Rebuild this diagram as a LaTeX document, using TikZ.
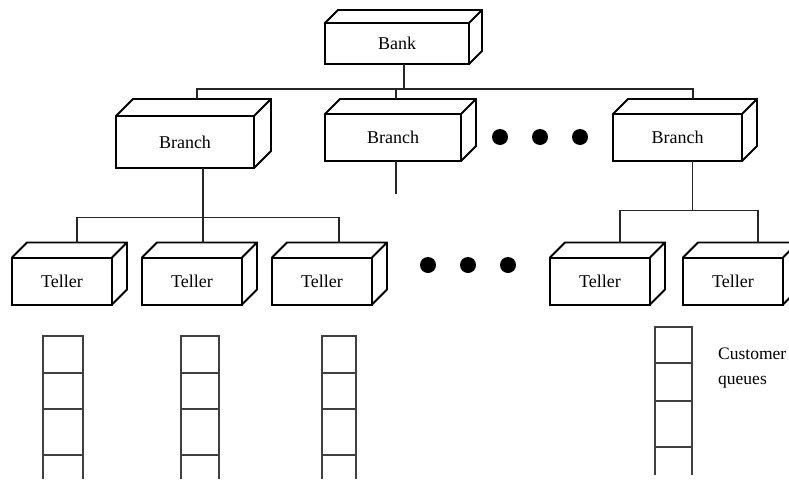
\documentclass[tikz,border=0pt]{standalone}
\usepackage{fontspec}
\setmainfont{Liberation Serif}
\usetikzlibrary{calc}

\begin{document}
\begin{tikzpicture}[x=1pt, y=-1pt,
    box/.style={draw, line width=1.3pt, inner sep=0pt, outer sep=0pt, font=\fontsize{18}{20}\selectfont},
    heavy/.style={box, line width=2pt},
    wire/.style={line width=1.3pt, black!85},
    queue/.style={line width=1.6pt, black!75}]
    \useasboundingbox (0,0) rectangle (789,479);

    % Front faces of the boxes
    \node[box, minimum width=144pt, minimum height=41pt] (bank) at (397,43.5) {Bank};
    \node[heavy, minimum width=138pt, minimum height=52pt] (brA) at (185,142) {Branch};
    \node[box, minimum width=136pt, minimum height=47pt] (brB) at (393,137.5) {Branch};
    \node[heavy, minimum width=129pt, minimum height=47pt] (brC) at (677.5,137.5) {Branch};
    \foreach \n/\x in {tA/62, tB/192, tC/322, tD/600, tE/733}
        \node[heavy, minimum width=100pt, minimum height=47pt] (\n) at (\x,281) {Teller};

    % Top and side faces
    \foreach \n/\d in {bank/13, brA/17, brB/15, brC/15, tA/15, tB/15, tC/15, tD/15, tE/15}
        \draw[line width=1.8pt] (\n.north west) -- ++(\d,-\d) -- ($(\n.north east)+(\d,-\d)$)
            -- ($(\n.south east)+(\d,-\d)$) -- (\n.south east)
            (\n.north east) -- ++(\d,-\d);

    % Bank to branches
    \coordinate (dropA) at ($(brA.north)+(12,-17)$);
    \coordinate (dropB) at ($(brB.north)+(3,-15)$);
    \coordinate (dropC) at ($(brC.north)+(15.5,-15)$);
    \coordinate (bus) at ($(dropA)+(0,-10)$);
    \coordinate (bankout) at ([xshift=7pt]bank.south);
    \draw[wire] (dropA) -- (bus) -| (dropC);
    \draw[wire] (bankout) -- (bankout |- bus);
    \draw[wire] (dropB) -- (dropB |- bus);

    % Branches to tellers
    \foreach \n/\s in {tA/15, tB/11, tC/17, tD/20, tE/25}
        \coordinate (\n-in) at ($(\n.north)+(\s,-15)$);
    \coordinate (brAout) at ([xshift=18pt]brA.south);
    \coordinate (brBout) at ([xshift=3pt]brB.south);
    \coordinate (brCout) at ([xshift=15pt]brC.south);
    \coordinate (tbusA) at ($(tA-in)+(0,-25)$);
    \coordinate (tbusC) at ($(tD-in)+(0,-32)$);
    \draw[wire] (brAout) -- (brAout |- tB-in);
    \draw[wire] (tA-in) -- (tbusA) -| (tC-in);
    \draw[wire] (brBout) -- ++(0,33);
    \draw[wire] (brCout) -- (brCout |- tbusC);
    \draw[wire] (tD-in) -- (tbusC) -| (tE-in);

    % Dots
    \foreach \x in {500, 540, 580}
        \fill (\x,137) circle (8pt);
    \foreach \x in {428, 468, 508}
        \fill (\x,265) circle (8pt);

    % Customer queues
    \foreach \l/\r in {43/83, 181/219, 322/356} {
        \draw[queue] (\l,479) -- (\l,336) -- (\r,336) -- (\r,479);
        \foreach \y in {373, 409, 455}
            \draw[queue] (\l,\y) -- (\r,\y);
    }
    \draw[queue] (655,475) -- (655,327) -- (692,327) -- (692,475);
    \foreach \y in {363, 401, 447}
        \draw[queue] (655,\y) -- (692,\y);
    \node[anchor=north west, align=left, inner sep=0pt, font=\fontsize{17.5}{25}\selectfont] (qlabel) at (718,348) {Customer\\queues};
\end{tikzpicture}
\end{document}
